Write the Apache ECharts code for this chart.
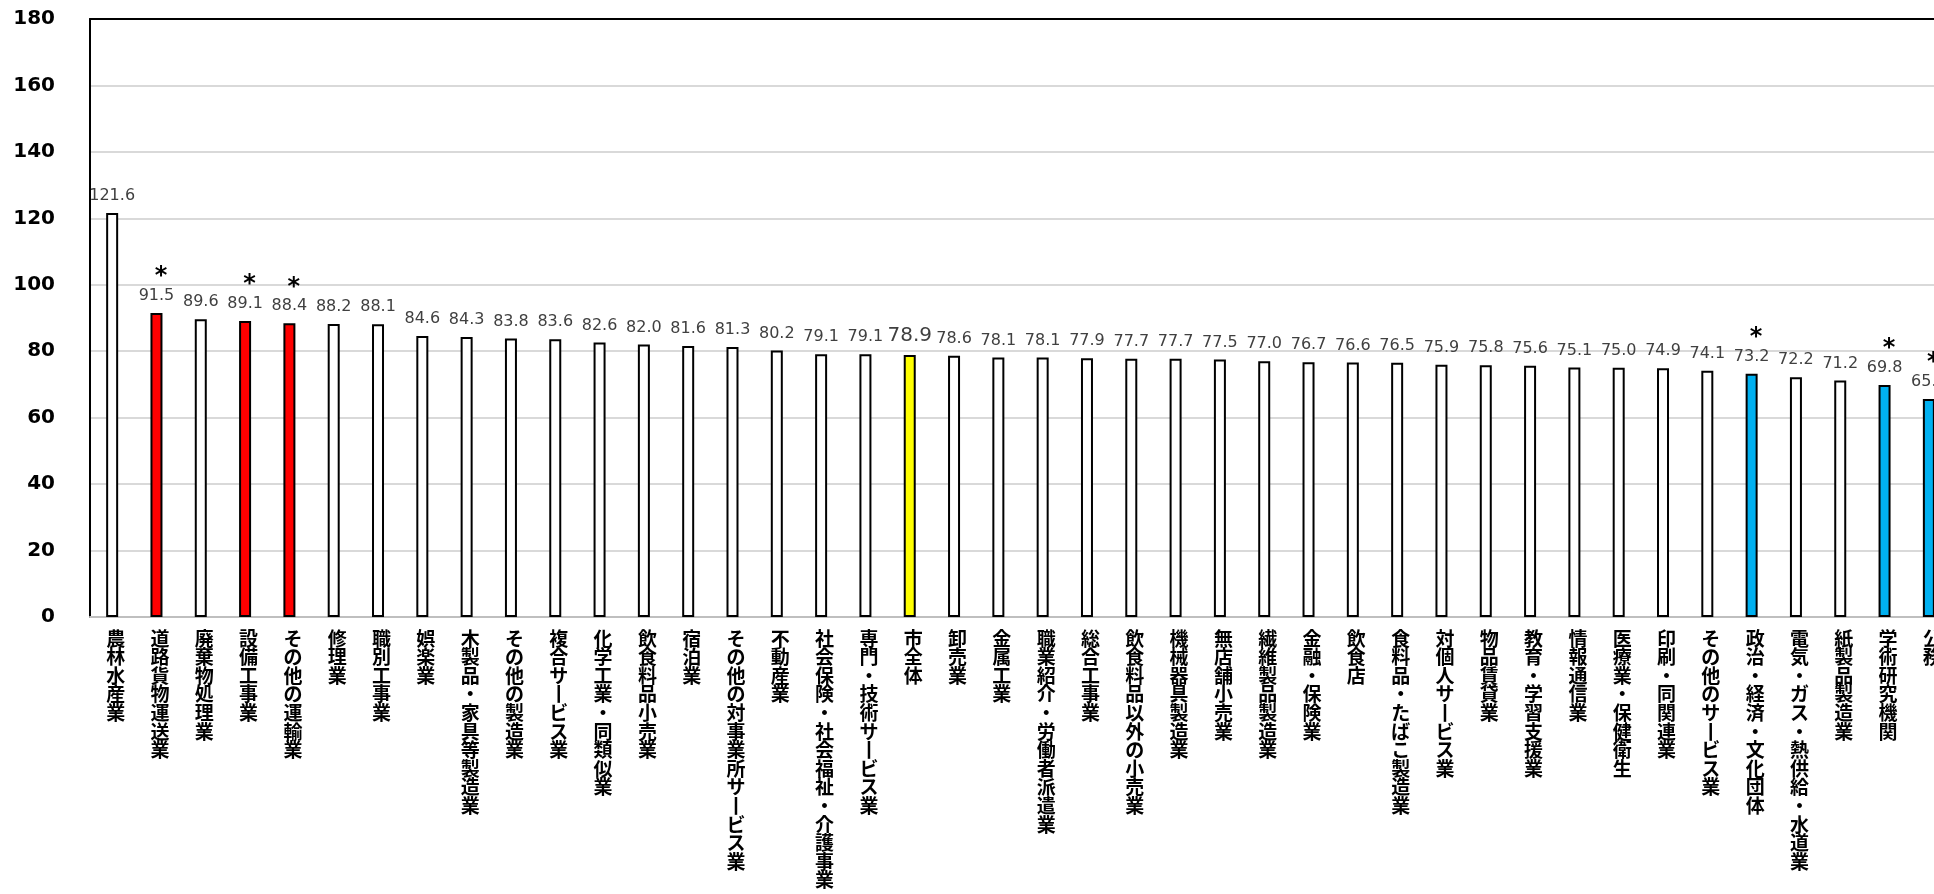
<!DOCTYPE html>
<html>
<head>
<meta charset="utf-8">
<script src="https://cdn.jsdelivr.net/npm/echarts@6/dist/echarts.min.js"></script>
<style>
html,body{margin:0;padding:0;background:#fff;overflow:hidden;width:1934px;height:894px;}
#chart{width:1980px;height:894px;}
</style>
</head>
<body>
<div id="chart"></div>
<script>
const categories = [
  '農林水産業','道路貨物運送業','廃棄物処理業','設備工事業','その他の運輸業','修理業','職別工事業','娯楽業',
  '木製品・家具等製造業','その他の製造業','複合サービス業','化学工業・同類似業','飲食料品小売業','宿泊業',
  'その他の対事業所サービス業','不動産業','社会保険・社会福祉・介護事業','専門・技術サービス業','市全体','卸売業',
  '金属工業','職業紹介・労働者派遣業','総合工事業','飲食料品以外の小売業','機械器具製造業','無店舗小売業',
  '繊維製品製造業','金融・保険業','飲食店','食料品・たばこ製造業','対個人サービス業','物品賃貸業',
  '教育・学習支援業','情報通信業','医療業・保健衛生','印刷・同関連業','その他のサービス業','政治・経済・文化団体',
  '電気・ガス・熱供給・水道業','紙製品製造業','学術研究機関','公務'
];
const values = [
  121.6, 91.5, 89.6, 89.1, 88.4, 88.2, 88.1, 84.6,
  84.3, 83.8, 83.6, 82.6, 82.0, 81.6,
  81.3, 80.2, 79.1, 79.1, 78.9, 78.6,
  78.1, 78.1, 77.9, 77.7, 77.7, 77.5,
  77.0, 76.7, 76.6, 76.5, 75.9, 75.8,
  75.6, 75.1, 75.0, 74.9, 74.1, 73.2,
  72.2, 71.2, 69.8, 65.6
];
// H = significantly higher (*), L = significantly lower (*), T = city total, N = none
const status = [
  'N','H','N','H','H','N','N','N',
  'N','N','N','N','N','N',
  'N','N','N','N','T','N',
  'N','N','N','N','N','N',
  'N','N','N','N','N','N',
  'N','N','N','N','N','L',
  'N','N','L','L'
];
const yTicks = {min: 0, max: 180, interval: 20};

const fillOf = s => s === 'H' ? '#FF0000' : s === 'L' ? '#00B0F0' : s === 'T' ? '#FFFF00' : '#FFFFFF';

const chart = echarts.init(document.getElementById('chart'), null, {renderer: 'canvas'});
const nCat = categories.length;
const band = 44.31;

chart.setOption({
  backgroundColor: '#ffffff',
  animation: false,
  grid: {left: 90, top: 19, bottom: 277, width: band * nCat, containLabel: false},
  xAxis: [{
    type: 'category',
    data: categories,
    position: 'bottom',
    axisLine: {show: true, lineStyle: {color: '#bfbfbf', width: 2}},
    axisTick: {show: false},
    axisLabel: {
      interval: 0,
      margin: 12,
      color: '#000',
      fontFamily: 'Noto Sans CJK JP',
      fontWeight: 'bold',
      fontSize: 19,
      lineHeight: 18.6,
      verticalAlign: 'top',
      padding: [0, 0, 0, 7],
      formatter: v => v.replace(/ー/g, '丨').split('').join('\n')
    }
  }, {
    type: 'category',
    data: categories,
    position: 'top',
    axisLine: {show: true, lineStyle: {color: '#000', width: 2}},
    axisTick: {show: false},
    axisLabel: {show: false}
  }],
  yAxis: {
    type: 'value',
    min: yTicks.min, max: yTicks.max, interval: yTicks.interval,
    axisLine: {show: true, lineStyle: {color: '#000', width: 2}},
    axisTick: {show: false},
    splitLine: {show: true, lineStyle: {color: '#d9d9d9', width: 2}},
    axisLabel: {color: '#000', fontFamily: 'DejaVu Sans', fontWeight: 'bold', fontSize: 20, margin: 35}
  },
  series: [{
    type: 'bar',
    xAxisIndex: 0,
    barWidth: 12,
    data: values.map((v, i) => ({value: v, itemStyle: {color: fillOf(status[i])}})),
    itemStyle: {borderColor: '#000', borderWidth: 2},
    label: {
      show: true,
      position: 'top',
      distance: 9,
      formatter: p => {
        const s = status[p.dataIndex];
        const t = p.value.toFixed(1);
        if (s === 'H' || s === 'L') return '{a|*}\n{v|' + t + '}';
        if (s === 'T') return '{t|' + t + '}';
        return '{v|' + t + '}';
      },
      rich: {
        v: {fontFamily: 'DejaVu Sans', fontSize: 16, lineHeight: 16, color: '#404040'},
        t: {fontFamily: 'DejaVu Sans', fontSize: 20, lineHeight: 20, color: '#404040'},
        a: {fontFamily: 'DejaVu Sans', fontWeight: 'bold', fontSize: 24, lineHeight: 22, color: '#000', padding: [0, 0, 0, 9]}
      }
    }
  }]
});
</script>
</body>
</html>
